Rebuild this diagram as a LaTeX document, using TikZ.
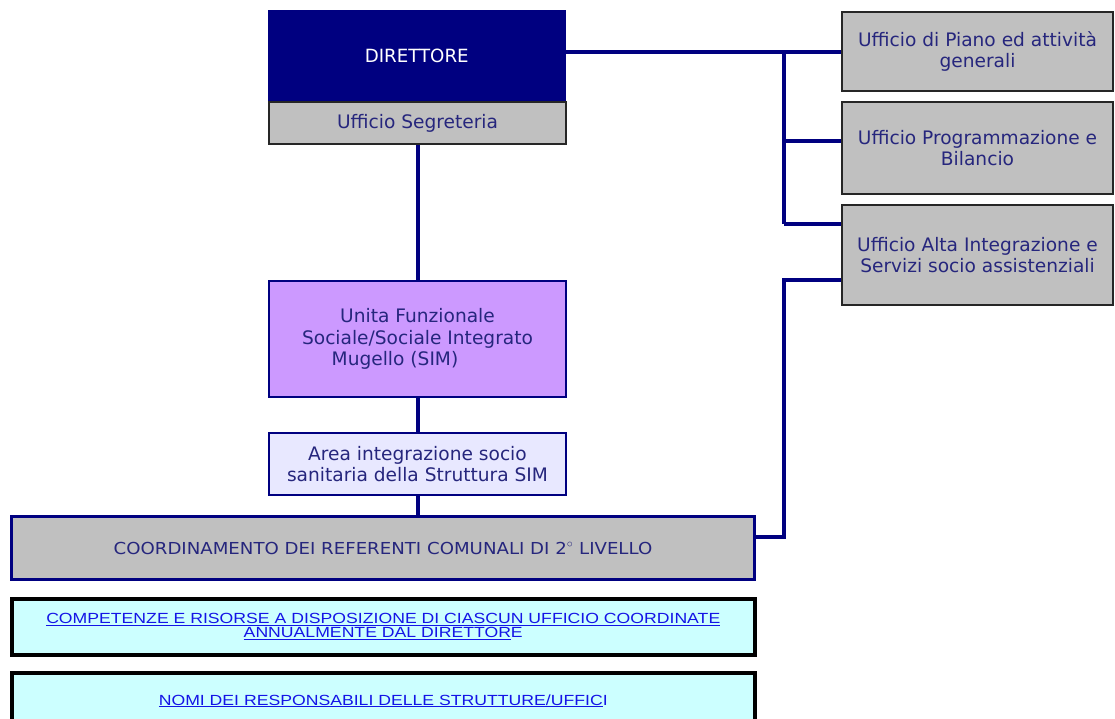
\documentclass[tikz,border=0pt]{standalone}
\usepackage{fontspec}
\setmainfont{DejaVu Sans}
\newfontfamily\narrowfont[FakeStretch=1.2]{Liberation Sans}
\newfontfamily\condfont[FakeStretch=1.1]{DejaVu Sans}
\definecolor{navy}{RGB}{0,0,128}
\definecolor{txtnavy}{RGB}{38,38,125}
\definecolor{boxgray}{RGB}{192,192,192}
\definecolor{purp}{RGB}{204,153,255}
\definecolor{lav}{RGB}{232,232,255}
\definecolor{cyanl}{RGB}{204,255,255}
\definecolor{linkblue}{RGB}{20,20,230}
\newcommand\myul[1]{\underline{#1}}
\tikzset{
  conn/.style={draw=navy, line width=4pt},
  graybox/.style={draw=black!85, line width=2pt, fill=boxgray, text=txtnavy, align=center, font=\fontsize{18.6}{21.5}\selectfont, inner sep=0pt},
  navybox/.style={draw=navy, line width=2pt, text=txtnavy, align=center, font=\fontsize{18.6}{21.5}\selectfont, inner sep=0pt},
  cyanbox/.style={draw=black, line width=3.5pt, fill=cyanl, text=linkblue, align=center, inner sep=0pt},
}
\begin{document}
\begin{tikzpicture}[x=1pt,y=-1pt]
\useasboundingbox (0,0) rectangle (1115,719);
\begin{scope}
\clip (0,0) rectangle (1115,719);
% Direttore
\node[fill=navy, draw=navy, text=white, minimum width=297pt, minimum height=91pt, inner sep=0pt, font=\fontsize{18.2}{21}\selectfont, anchor=north west] (dir) at (268,10) {DIRETTORE};
\node[graybox, minimum width=297pt, minimum height=42pt, anchor=north west] (seg) at (268,101) {Ufficio Segreteria};
% right offices
\node[graybox, minimum width=271pt, minimum height=79pt, anchor=north west] (piano) at (841,11) {Ufficio di Piano ed attività\\generali};
\node[graybox, minimum width=271pt, minimum height=92pt, anchor=north west] (prog) at (841,101) {Ufficio Programmazione e\\Bilancio};
\node[graybox, minimum width=271pt, minimum height=100pt, anchor=north west] (alta) at (841,204) {Ufficio Alta Integrazione e\\Servizi socio assistenziali};
% UF
\node[navybox, fill=purp, minimum width=297pt, minimum height=116pt, anchor=north west] (uf) at (268,280) {Unita Funzionale\\Sociale/Sociale Integrato\hspace*{64pt}\\Mugello (SIM)\hspace*{45pt}};
\node[navybox, fill=lav, minimum width=297pt, minimum height=62pt, anchor=north west] (area) at (268,432) {Area integrazione socio\\sanitaria della Struttura SIM};
% Coordinamento
\node[draw=navy, line width=3pt, fill=boxgray, text=txtnavy, minimum width=743pt, minimum height=63pt, inner sep=0pt, font=\condfont\fontsize{16.5}{20}\selectfont, anchor=north west] (coord) at (10,515) {COORDINAMENTO DEI REFERENTI COMUNALI DI 2$^\circ$ LIVELLO};
% bottom boxes
\node[cyanbox, minimum width=743pt, minimum height=56pt, font=\narrowfont\fontsize{14.7}{14}\selectfont, anchor=north west] (comp) at (10,597) {\myul{COMPETENZE E RISORSE A DISPOSIZIONE DI CIASCUN UFFICIO COORDINATE}\\\myul{ANNUALMENTE DAL DIRETTOR}E};
\node[cyanbox, minimum width=743pt, minimum height=56pt, font=\narrowfont\fontsize{14.7}{14}\selectfont, anchor=north west] (nomi) at (10,671) {\myul{NOMI DEI RESPONSABILI DELLE STRUTTURE/UFFIC}I};
% connectors
\coordinate (j1) at (784,52);
\coordinate (j2) at (784,141);
\coordinate (j3) at (784,224);
\coordinate (j4) at (784,280);
\coordinate (j5) at (784,537);
\draw[conn] (dir.east |- j1) -- (j1 -| piano.west);
\draw[conn] (j1) -- (j3);
\draw[conn] (j2) -- (j2 -| prog.west);
\draw[conn] (j3) -- (j3 -| alta.west);
\draw[conn, line join=miter] (j4 -| alta.west) -- (j4) -- (j5) -- (j5 -| coord.east);
\draw[conn] (seg.south) -- (uf.north);
\draw[conn] (uf.south) -- (area.north);
\draw[conn] (area.south) -- (coord.north -| area.south);
\end{scope}
\end{tikzpicture}
\end{document}
